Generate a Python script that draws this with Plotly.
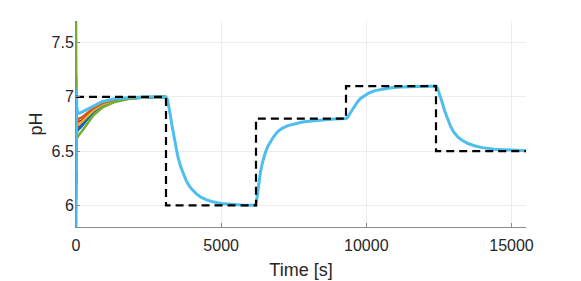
import plotly.graph_objects as go

# ---- Data ----
# Setpoint steps
sp_times = [0, 3100, 6200, 9300, 12400, 15500]
sp_levels = [7.0, 6.0, 6.8, 7.1, 6.5, 6.5]

# Initial transient (0..3100 s), one list per run
t_init = [0, 15, 30, 60, 100, 200, 350, 600, 900, 1300, 1800, 2400, 3100]
ph_blue   = [6.20, 6.66, 6.68, 6.69, 6.70, 6.73, 6.78, 6.86, 6.92, 6.96, 6.985, 6.996, 7.0]
ph_orange = [6.40, 6.76, 6.78, 6.79, 6.80, 6.81, 6.84, 6.895, 6.943, 6.972, 6.99, 6.997, 7.0]
ph_yellow = [6.50, 6.30, 6.73, 6.745, 6.755, 6.77, 6.81, 6.875, 6.93, 6.965, 6.988, 6.997, 7.0]
ph_purple = [7.20, 6.72, 6.71, 6.71, 6.72, 6.74, 6.79, 6.865, 6.925, 6.962, 6.986, 6.996, 7.0]
ph_red    = [6.05, 6.45, 6.76, 6.77, 6.77, 6.78, 6.82, 6.88, 6.935, 6.967, 6.988, 6.997, 7.0]
ph_green  = [7.80, 6.60, 6.62, 6.63, 6.65, 6.68, 6.74, 6.83, 6.90, 6.95, 6.98, 6.995, 7.0]
ph_cyan0  = [5.75, 7.07, 6.90, 6.85, 6.85, 6.86, 6.88, 6.92, 6.955, 6.98, 6.993, 6.998, 7.0]

# Remaining response (after 3100 s), shared by all runs (drawn as cyan)
t_rest = [3150, 3200, 3250, 3300, 3350, 3400, 3450, 3500, 3600, 3700, 3800, 3900, 4000,
          4150, 4300, 4500, 4700, 5000, 5300, 5700, 6200,
          6230, 6280, 6350, 6420, 6500, 6600, 6700, 6800, 6950, 7100, 7300, 7550, 7800,
          8100, 8500, 8900, 9300,
          9350, 9420, 9500, 9600, 9700, 9800, 9950, 10100, 10300, 10550, 10850, 11200,
          11700, 12400,
          12450, 12520, 12600, 12700, 12800, 12900, 13000, 13150, 13300, 13500, 13750,
          14000, 14400, 14900, 15500]
ph_rest = [6.975, 6.91, 6.83, 6.745, 6.665, 6.59, 6.52, 6.46, 6.36, 6.285, 6.225, 6.18, 6.145,
           6.105, 6.075, 6.05, 6.033, 6.017, 6.009, 6.004, 6.001,
           6.07, 6.18, 6.30, 6.39, 6.47, 6.54, 6.59, 6.63, 6.68, 6.71, 6.735, 6.755, 6.768,
           6.778, 6.788, 6.795, 6.80,
           6.81, 6.84, 6.875, 6.92, 6.955, 6.985, 7.015, 7.038, 7.058, 7.073, 7.085, 7.092,
           7.097, 7.10,
           7.08, 7.03, 6.96, 6.87, 6.79, 6.73, 6.68, 6.63, 6.60, 6.57, 6.547,
           6.532, 6.518, 6.509, 6.504]

x_ticks = [0, 5000, 10000, 15000]
y_ticks = [6, 6.5, 7, 7.5]

colors = {
    "blue": "#0072BD", "orange": "#D95319", "yellow": "#EDB120",
    "purple": "#7E2F8E", "red": "#A2142F", "green": "#77AC30", "cyan": "#4DBEEE",
}

fig = go.Figure()
runs = [("red", ph_red), ("purple", ph_purple), ("blue", ph_blue),
        ("yellow", ph_yellow), ("orange", ph_orange), ("green", ph_green)]
for name, vals in runs:
    fig.add_trace(go.Scatter(x=t_init, y=vals, mode="lines",
                             line=dict(color=colors[name], width=2.5),
                             showlegend=False, hoverinfo="skip"))

fig.add_trace(go.Scatter(x=t_init + t_rest, y=ph_cyan0 + ph_rest, mode="lines",
                         line=dict(color=colors["cyan"], width=3),
                         showlegend=False))

fig.add_trace(go.Scatter(x=sp_times, y=sp_levels, mode="lines",
                         line=dict(color="black", width=2.2, dash="8px,5px", shape="hv"),
                         showlegend=False))

font_family = "Liberation Sans, Arial, Helvetica, sans-serif"
fig.update_layout(
    width=581, height=281,
    margin=dict(l=68, r=63, t=13, b=60),
    paper_bgcolor="white", plot_bgcolor="white",
    font=dict(family=font_family, color="#262626", size=16),
    xaxis=dict(range=[0, 15500], tickvals=x_ticks, ticktext=[str(v) for v in x_ticks],
               showgrid=True, gridcolor="#ececec", gridwidth=1,
               showline=True, linecolor="#8c8c8c", linewidth=1,
               ticks="inside", ticklen=4, tickcolor="#8c8c8c",
               zeroline=False, tickfont=dict(size=16), ticklabelstandoff=4,
               title=dict(text="Time [s]", font=dict(size=18), standoff=10)),
    yaxis=dict(range=[5.8, 7.7], tickvals=y_ticks, ticktext=["6", "6.5", "7", "7.5"],
               showgrid=True, gridcolor="#ececec", gridwidth=1,
               showline=True, linecolor="#8c8c8c", linewidth=1,
               ticks="inside", ticklen=4, tickcolor="#8c8c8c",
               zeroline=False, tickfont=dict(size=16), ticklabelstandoff=-2,
               title=dict(text="pH", font=dict(size=18), standoff=4)),
)

fig.write_html("out.html")
